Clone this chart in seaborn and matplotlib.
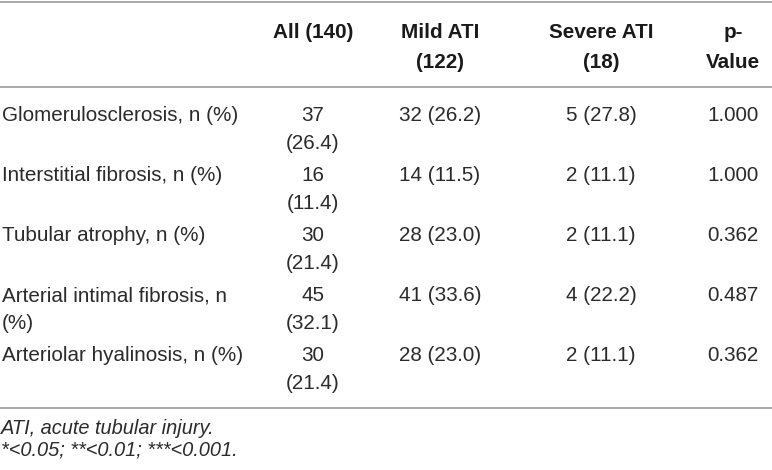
import textwrap
import matplotlib
matplotlib.use("Agg")
import matplotlib.pyplot as plt
import seaborn as sns

# table content
header = ["", "All (140)", "Mild ATI\n(122)", "Severe ATI\n(18)", "p-\nValue"]
features = ["Glomerulosclerosis, n (%)",
            "Interstitial fibrosis, n (%)",
            "Tubular atrophy, n (%)",
            "Arterial intimal fibrosis, n (%)",
            "Arteriolar hyalinosis, n (%)"]
all_n = [37, 16, 30, 45, 30]
all_pct = [26.4, 11.4, 21.4, 32.1, 21.4]
mild_n = [32, 14, 28, 41, 28]
mild_pct = [26.2, 11.5, 23.0, 33.6, 23.0]
severe_n = [5, 2, 2, 4, 2]
severe_pct = [27.8, 11.1, 11.1, 22.2, 11.1]
p_values = [1.000, 1.000, 0.362, 0.487, 0.362]
footnotes = ["ATI, acute tubular injury.",
             "*<0.05; **<0.01; ***<0.001."]

sns.set_theme(style="white")
plt.rcParams['font.family'] = ['Liberation Sans', 'DejaVu Sans']

text_color = "#2b2b2b"
line_color = "#a3a3a3"
fs = 14.9

fig = plt.figure(figsize=(7.72, 4.70), dpi=100)
ax = fig.add_axes([0, 0, 1, 1])
ax.set_xlim(0, 772)
ax.set_ylim(470, 0)
ax.axis("off")

col_x = [2, 313, 440, 601, 733]
head_base = 38
head_step = 30
row_base = 121
row_step = 60
line_step = 28

# rules
for y in [1.5, 87, 408]:
    ax.axhline(y, color=line_color, lw=1.3)

# header
for i, h in enumerate(header):
    for k, part in enumerate(h.split("\n")):
        ax.text(col_x[i], head_base + k * head_step, part, fontsize=fs,
                fontweight="bold", ha="center", va="baseline",
                color="#1a1a1a")

# body
for r in range(len(features)):
    y0 = row_base + r * row_step
    cells = [textwrap.wrap(features[r], 28),
             [str(all_n[r]), "({:.1f})".format(all_pct[r])],
             ["{} ({:.1f})".format(mild_n[r], mild_pct[r])],
             ["{} ({:.1f})".format(severe_n[r], severe_pct[r])],
             ["{:.3f}".format(p_values[r])]]
    for i, lines in enumerate(cells):
        for k, part in enumerate(lines):
            ax.text(col_x[i], y0 + k * line_step, part, fontsize=fs,
                    ha="left" if i == 0 else "center", va="baseline",
                    color=text_color)

# footer
for k, note in enumerate(footnotes):
    ax.text(1, 434 + k * 22, note, fontsize=14.4, fontstyle="italic",
            ha="left", va="baseline", color=text_color)

fig.savefig("out.png", dpi=100)
